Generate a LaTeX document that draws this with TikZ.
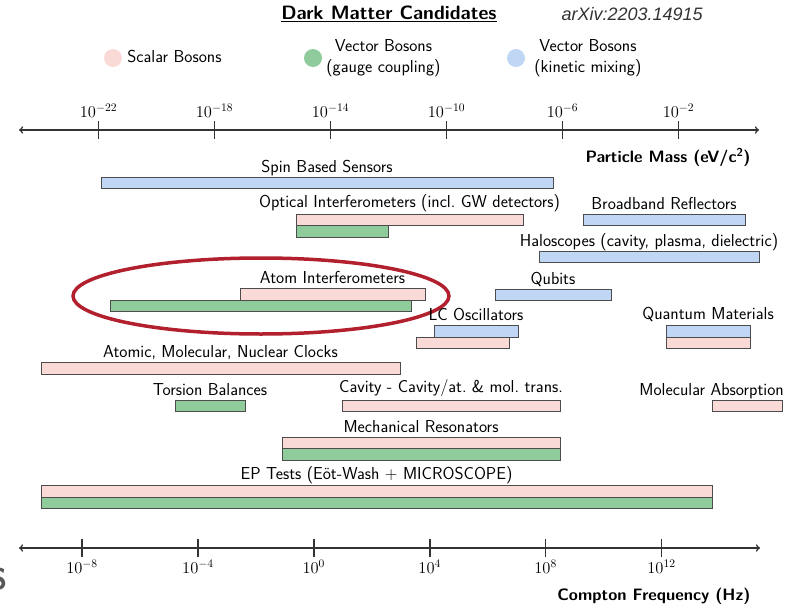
\RequirePackage{fix-cm}
\documentclass[tikz,border=0pt]{standalone}
\usepackage{fontspec}
\usepackage{tikz}
\usetikzlibrary{arrows,calc,positioning,shapes}
\newfontfamily\arxivfont{Liberation Sans}
\definecolor{scalarfill}{HTML}{FADAD7}
\definecolor{gaugefill}{HTML}{8FCB9B}
\definecolor{kineticfill}{HTML}{BFD6F5}
\definecolor{ringred}{HTML}{B2202E}
\newdimen\hdim
\hdim=11.5pt
\tikzstyle{band}=[
  draw=black!70,
  line width=.8pt,
  inner sep=0pt,
  outer sep=0pt,
  minimum height=\hdim,
  rectangle,
  anchor=north west,
]
\tikzstyle{scalar}=[band, fill=scalarfill]
\tikzstyle{gauge}=[band, fill=gaugefill]
\tikzstyle{kinetic}=[band, fill=kineticfill]
\tikzstyle{bandtext}=[
  font={\fontsize{17.3}{21}\selectfont\sffamily},
  inner sep=1pt,
  text height=12.2pt,
  text depth=3.6pt,
]
\tikzstyle{ticktext}=[
  font={\fontsize{16.5}{19}\selectfont},
  inner sep=2pt,
]
\tikzstyle{axis}=[
  color=black!80,
  line width=1.6pt,
]
\tikzstyle{axistitle}=[
  font={\fontsize{16.5}{19}\selectfont\sffamily\bfseries},
  anchor=east,
]
\tikzstyle{dot}=[
  circle,
  minimum size=18pt,
  inner sep=0pt,
]
\tikzstyle{ring}=[
  draw=ringred,
  line width=3.5pt,
  ellipse,
  inner sep=0pt,
  minimum width=376pt,
  minimum height=76pt,
]
\tikzset{
  x=1pt, y=-1pt,
  >=to,
}

\begin{document}
\begin{tikzpicture}
      \useasboundingbox (0,0) rectangle (788,608);
      %% heading
      \node (title) [font={\fontsize{19.3}{22}\selectfont\sffamily\bfseries}] at (389,14) {\underline{Dark Matter Candidates}};
      \node (arxiv) [anchor=west, font={\fontsize{18}{21}\selectfont\arxivfont\itshape}, color=black!80] at (558,14) {arXiv:2203.14915};
      %% legend
      \node (scalardot) [dot, fill=scalarfill] at (113,58) {};
      \node (scalarkey) [bandtext, right=4pt of scalardot] {Scalar Bosons};
      \node (gaugedot) [dot, fill=gaugefill] at (313,58) {};
      \node (gaugekey) [right=3pt of gaugedot, align=center, inner sep=1pt,
        font={\fontsize{17.3}{21}\selectfont\sffamily}] {Vector Bosons\\(gauge coupling)};
      \node (kineticdot) [dot, fill=kineticfill] at (516,58) {};
      \node (kinetickey) [right=8pt of kineticdot, align=center, inner sep=1pt,
        font={\fontsize{17.3}{21}\selectfont\sffamily}] {Vector Bosons\\(kinetic mixing)};
      %% mass axis
      \coordinate (massL) at (19,130);
      \coordinate (massR) at (759,130);
      \draw [<->, axis] (massL) -- (massR);
      \foreach \e [count=\i from 0] in {-22,-18,-14,-10,-6,-2} {
        \coordinate (mt\i) at (98.5+116*\i,121);
        \draw [axis] (mt\i) -- ++(0,18);
        \node (mass\i) [ticktext, above=1pt of mt\i] {$10^{\e}$};
      }
      \node (masstitle) [axistitle] at (754,157) {Particle Mass (eV/c\textsuperscript{2})};
      %% frequency axis
      \coordinate (freqL) at (19,548);
      \coordinate (freqR) at (760,548);
      \draw [<->, axis] (freqL) -- (freqR);
      \foreach \e [count=\i from 0] in {-8,-4,0,4,8,12} {
        \coordinate (ft\i) at (82+115.9*\i,557);
        \draw [axis] (ft\i) -- ++(0,-18);
        \node (freq\i) [ticktext, below=1pt of ft\i] {$10^{\e}$};
      }
      \node (freqtitle) [axistitle] at (754,596) {Compton Frequency (Hz)};
      %% bands
      \node (spin) [kinetic, minimum width=452pt] at (101,177) {};
      \node (spintext) [bandtext, above=0pt of spin] {Spin Based Sensors};
      %%
      \node (opticalS) [scalar, minimum width=227pt] at (296,214) {};
      \node (opticalG) [gauge, minimum width=92pt] at (opticalS.south west) {};
      \node (opticaltext) [bandtext, above=2pt of opticalS] {Optical Interferometers (incl.\ GW detectors)};
      \node (broadband) [kinetic, minimum width=162pt] at (583,214) {};
      \node (broadbandtext) [bandtext, above=0pt of broadband] {Broadband Reflectors};
      \node (halo) [kinetic, minimum width=220pt] at (539,251) {};
      \node (halotext) [bandtext, above=0pt of halo] {Haloscopes (cavity, plasma, dielectric)};
      %%
      \node (atomS) [scalar, minimum width=185pt] at (240,288.5) {};
      \node (atomG) [gauge, minimum width=301pt] at (110,300) {};
      \node (atomtext) [bandtext, above=0pt of atomS] {Atom Interferometers};
      \node (focus) [ring] at (261,296) {};
      \node (qubits) [kinetic, minimum width=116pt] at (495,289) {};
      \node (qubitstext) [bandtext, above=0pt of qubits] {Qubits};
      %%
      \node (lcK) [kinetic, minimum width=84pt] at (434,325.5) {};
      \node (lcS) [scalar, minimum width=93pt] at (416,337) {};
      \node (lctext) [bandtext, above=0pt of lcK] {LC Oscillators};
      \node (qmK) [kinetic, minimum width=84pt] at (666,325.5) {};
      \node (qmS) [scalar, minimum width=84pt] at (qmK.south west) {};
      \node (qmtext) [bandtext, above=1pt of qmK] {Quantum Materials};
      %%
      \node (clocks) [scalar, minimum width=359pt] at (41,362.5) {};
      \node (clockstext) [bandtext, above=0pt of clocks] {Atomic, Molecular, Nuclear Clocks};
      %%
      \node (torsion) [gauge, minimum width=70pt] at (175,400) {};
      \node (torsiontext) [bandtext, above=0pt of torsion] {Torsion Balances};
      \node (cavity) [scalar, minimum width=218pt] at (342,400) {};
      \node (cavitytext) [bandtext, above=3pt of cavity] {Cavity - Cavity/at.\ \& mol.\ trans.};
      \node (molabs) [scalar, minimum width=70pt] at (712,400) {};
      \node (molabstext) [bandtext, anchor=south east] at ($(molabs.north east)+(3,0)$) {Molecular Absorption};
      %%
      \node (mechS) [scalar, minimum width=278pt] at (282,437) {};
      \node (mechG) [gauge, minimum width=278pt] at (mechS.south west) {};
      \node (mechtext) [bandtext, above=0pt of mechS] {Mechanical Resonators};
      %%
      \node (epS) [scalar, minimum width=671pt] at (41,485.5) {};
      \node (epG) [gauge, minimum width=671pt] at (epS.south west) {};
      \node (eptext) [bandtext, above=1pt of epS] {EP Tests (Eöt-Wash + MICROSCOPE)};
      %% cut letter at the left edge
      \node (cutS) [font={\fontsize{30}{30}\selectfont\sffamily\bfseries}, color=black!65] at (-2,579) {S};
    \end{tikzpicture}
\end{document}
